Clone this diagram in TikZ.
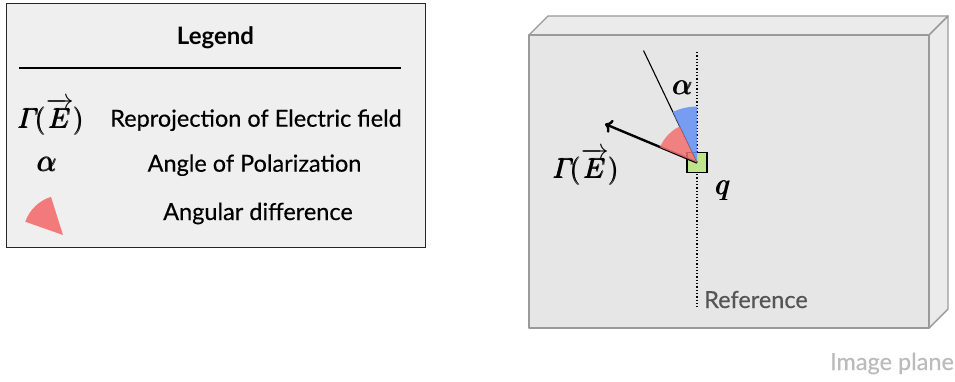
\documentclass[tikz,border=0pt]{standalone}
\usepackage{fix-cm}
\usepackage{amsmath}
\usepackage{fontspec}
\setmainfont{Lato}[UprightFeatures={FakeBold=0.35}]
\usetikzlibrary{arrows.meta}
\definecolor{legbg}{HTML}{EFEFEF}
\definecolor{planefront}{HTML}{E6E6E6}
\definecolor{planeside}{HTML}{EBEBEB}
\definecolor{planeedge}{HTML}{9A9A9A}
\definecolor{wedgered}{RGB}{242,112,112}
\definecolor{wedgeblue}{RGB}{100,145,245}
\definecolor{qgreen}{RGB}{190,228,140}
\definecolor{refgray}{HTML}{555555}
\definecolor{capgray}{HTML}{BBBBBB}
\tikzset{
  txt/.style={font=\fontsize{23.5}{28}\selectfont, inner sep=0pt, anchor=base},
  mathtxt/.style={font=\fontsize{28}{32}\selectfont, inner sep=0pt, anchor=base},
  mathbig/.style={font=\fontsize{31}{34}\selectfont, inner sep=0pt, anchor=base},
  redwedge/.style={fill=wedgered, fill opacity=0.85, draw=none},
  bluewedge/.style={fill=wedgeblue, fill opacity=0.85, draw=none},
  planeface/.style={draw=planeedge, line width=1.4pt, line join=round},
}
\newcommand{\gammaE}{\pmb{\varGamma}\mkern-2mu\pmb{(}\overrightarrow{\pmb{E}}\pmb{)}}
\newcommand{\heavy}[1]{\pmb{#1}}
\begin{document}
\begin{tikzpicture}[x=1pt,y=-1pt]
\useasboundingbox (0,0) rectangle (955,382);
% ---------- Legend ----------
\node[draw=black!85, line width=1.4pt, fill=legbg, minimum width=419pt, minimum height=244pt, anchor=north west, inner sep=0pt] (legend) at (6,3) {};
\node[txt, font=\fontsize{24}{28}\selectfont\bfseries] (legtitle) at (215.5,45) {Legend};
\coordinate (ruleL) at (19,68);
\coordinate (ruleR) at (401,68);
\draw[line width=1.2pt] (ruleL) -- (ruleR);
\node[mathtxt] (symG) at (51,128.5) {$\gammaE$};
\node[txt] (txtG) at (256,126.7) {Reprojection of Electric field};
\node[mathbig] (symA) at (47.5,171.7) {$\heavy{\alpha}$};
\node[txt] (txtA) at (254.5,171.7) {Angle of Polarization};
\node[txt] (txtW) at (258,220) {Angular difference};
\begin{scope}[shift={(63,235)}, y=1pt]
  \fill[redwedge, fill opacity=1, fill=wedgered!93!white] (0,0) -- (107.5:40) arc[start angle=107.5, end angle=160.6, radius=40] -- cycle;
\end{scope}
% ---------- Image plane ----------
\draw[planeface, fill=planeside] (529,35) -- (548,16) -- (948,16) -- (929,35) -- cycle;
\draw[planeface, fill=planeside] (929,35) -- (948,16) -- (948,309) -- (929,328) -- cycle;
\draw[planeface, fill=planefront] (529,35) rectangle (929,328);
\coordinate (refTop) at (697,52);
\coordinate (refBot) at (697,308);
\draw[dotted, line width=1.3pt] (refTop) -- (refBot);
\node[draw=black, line width=1.2pt, fill=qgreen, minimum size=20pt, inner sep=0pt] (q) at (697,162.5) {};
\coordinate (polEnd) at (643.5,50.5);
\coordinate (gamTip) at (605,124);
\draw[line width=1.1pt] (q.center) -- (polEnd);
\draw[line width=2.4pt, -{To[length=7pt,width=14pt]}] (q.center) -- (gamTip);
\begin{scope}[shift={(697,162.5)}, y=1pt]
  \fill[bluewedge] (0,0) -- (90:56) arc[start angle=90, end angle=115.7, radius=56] -- cycle;
  \fill[redwedge] (0,0) -- (115.7:40) arc[start angle=115.7, end angle=157.6, radius=40] -- cycle;
\end{scope}
\node[mathbig] (alab) at (683,95) {$\heavy{\alpha}$};
\node[mathtxt] (glab) at (586,178.3) {$\gammaE$};
\node[mathbig] (qlab) at (723.5,195) {$\heavy{q}$};
\node[txt, text=refgray] (reflab) at (756,308) {Reference};
\node[txt, text=capgray] (caplab) at (892,370) {Image plane};
\end{tikzpicture}
\end{document}
